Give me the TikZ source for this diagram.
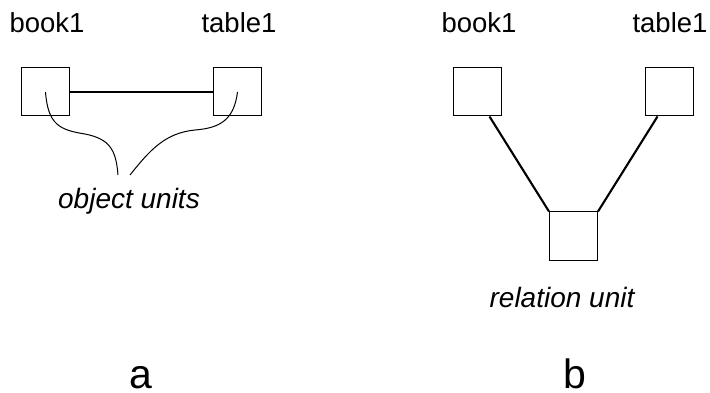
\documentclass[tikz,border=0pt]{standalone}
\usepackage{fontspec}
\setmainfont{Liberation Sans}

\tikzset{
  unitbox/.style={draw, line width=1pt, minimum size=48pt, inner sep=0pt},
  link/.style={line width=2.1pt},
  pointer/.style={line width=1pt},
  objlabel/.style={anchor=base, inner sep=0pt, font=\fontsize{27.5}{32}\selectfont},
  unitnote/.style={anchor=base, inner sep=0pt, font=\fontsize{28}{32}\selectfont\itshape},
  panelmark/.style={anchor=base, inner sep=0pt, font=\fontsize{41}{48}\selectfont}
}

\begin{document}
\begin{tikzpicture}[x=1pt, y=-1pt]
    \useasboundingbox (0,0) rectangle (710,393);

    %Left panel: two objects joined directly
    \node[unitbox] (book1a)  at ( 45.5, 92) {};
    \node[unitbox] (table1a) at (237.5, 92) {};
    \node[objlabel] (lbook1a)  at ( 47, 33) {book1};
    \node[objlabel] (ltable1a) at (239, 33) {table1};
    \draw[link] (book1a.east) -- (table1a.west);

    %Pointers to the label
    \coordinate (ptl) at (118,175);
    \coordinate (ptr) at (130,175);
    \draw[pointer] (book1a.center) .. controls (48,125) and (60,130) .. (85,134)
        .. controls (110,139) and (116,150) .. (ptl);
    \draw[pointer] (table1a.center) .. controls (234,120) and (220,128) .. (195,130)
        .. controls (165,133) and (150,150) .. (ptr);
    \node[unitnote] (objnote) at (129, 208) {object units};

    %Right panel: objects joined through a relation
    \node[unitbox] (book1b)  at (477.5, 92) {};
    \node[unitbox] (table1b) at (669.5, 92) {};
    \node[unitbox] (rel)     at (573.5,236) {};
    \node[objlabel] (lbook1b)  at (479, 33) {book1};
    \node[objlabel] (ltable1b) at (670, 33) {table1};
    \draw[link] ([xshift=12pt]book1b.south) -- (rel.north west);
    \draw[link] ([xshift=-12pt]table1b.south) -- (rel.north east);
    \node[unitnote] (relnote) at (562, 307) {relation unit};

    %Panel letters
    \node[panelmark] (pa) at (141, 388) {a};
    \node[panelmark] (pb) at (575, 388) {b};
\end{tikzpicture}
\end{document}
